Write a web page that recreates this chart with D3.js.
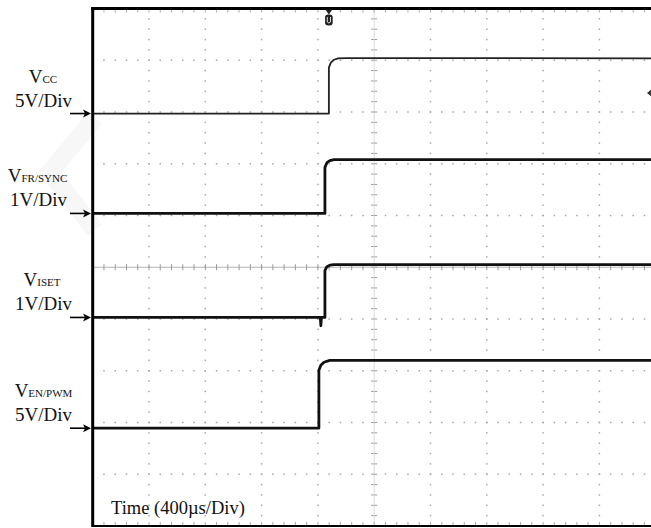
<!DOCTYPE html>
<html>
<head>
<meta charset="utf-8">
<script src="https://cdn.jsdelivr.net/npm/d3@7"></script>
<style>
  html, body { margin: 0; padding: 0; background: #fff; }
  svg { display: block; }
  text { font-family: "Liberation Serif", "Times New Roman", serif; fill: #111; }
</style>
</head>
<body>
<svg id="scope" width="651" height="528"></svg>
<script>
// Time base: 10 divisions at 400 µs/div
const timeDomain = [0, 4000];
const timeLabel = "Time (400\u00b5s/Div)";

// Channels
const channelNames = ["CC", "FR/SYNC", "ISET", "EN/PWM"];
const voltsPerDiv = [5, 1, 1, 5];
const scaleLabels = ["5V/Div", "1V/Div", "1V/Div", "5V/Div"];
// Ground reference of each channel, in divisions above screen centre
const groundDiv = [2.97, 1.04, -0.97, -3.11];

// Waveforms: [time µs, volts]
const vccTrace = [[0, 0], [1678, 0], [1678, 4.44], [1692, 4.92], [1714, 5.2], [1743, 5.33], [1800, 5.36], [4000, 5.34]];
const vfrTrace = [[0, 0], [1650, 0], [1650, 0.89], [1664, 0.98], [1685, 1.02], [1714, 1.04], [4000, 1.04]];
const visetTrace = [[0, 0], [1617, 0], [1621, -0.16], [1625, 0], [1650, 0], [1650, 0.91], [1664, 0.98], [1685, 1.01], [1714, 1.02], [4000, 1.02]];
const venTrace = [[0, 0], [1607, 0], [1607, 5.6], [1621, 6.08], [1643, 6.37], [1685, 6.56], [4000, 6.56]];
const traces = [vccTrace, vfrTrace, visetTrace, venTrace];

// Trigger position (µs)
const triggerTime = 1678;

const svg = d3.select("#scope");
const plotLeft = 92.7, plotTop = 8.5, divW = 56.3, divH = 51.75;
const plotRight = plotLeft + 10 * divW, plotBottom = plotTop + 10 * divH;

const x = d3.scaleLinear().domain(timeDomain).range([plotLeft, plotRight]);
const yDiv = d3.scaleLinear().domain([-5, 5]).range([plotBottom, plotTop]);

// faint background mark
svg.append("path")
  .attr("d", "M95,118 L50,172 L95,230")
  .attr("fill", "none").attr("stroke", "#f7f7f7").attr("stroke-width", 18);

const grid = svg.append("g");
// dotted division lines
const minorX = d3.range(0, 51).map(i => plotLeft + i * divW / 5);
const minorY = d3.range(0, 51).map(i => plotTop + i * divH / 5);
for (let d = 1; d < 10; d++) {
  if (d === 5) continue;
  const gx = plotLeft + d * divW;
  grid.selectAll(null).data(minorY).enter().append("rect")
    .attr("x", gx - 0.75).attr("y", v => v - 0.75).attr("width", 1.5).attr("height", 1.5)
    .attr("fill", "#a8a8a8");
  const gy = plotTop + d * divH;
  grid.selectAll(null).data(minorX).enter().append("rect")
    .attr("x", v => v - 0.75).attr("y", gy - 0.75).attr("width", 1.5).attr("height", 1.5)
    .attr("fill", "#a8a8a8");
}
// centre axes with minor ticks
const cx = plotLeft + 5 * divW, cy = plotTop + 5 * divH;
grid.append("line").attr("x1", plotLeft).attr("x2", plotRight).attr("y1", cy).attr("y2", cy)
  .attr("stroke", "#b5b5b5").attr("stroke-width", 1.2);
grid.selectAll(null).data(minorX).enter().append("line")
  .attr("x1", v => v).attr("x2", v => v).attr("y1", cy - 3).attr("y2", cy + 3)
  .attr("stroke", "#999").attr("stroke-width", 1);
grid.selectAll(null).data(minorY).enter().append("line")
  .attr("x1", cx - 3).attr("x2", cx + 3).attr("y1", v => v).attr("y2", v => v)
  .attr("stroke", "#999").attr("stroke-width", 1);
grid.append("line").attr("x1", cx).attr("x2", cx).attr("y1", plotTop).attr("y2", plotBottom)
  .attr("stroke", "#dadada").attr("stroke-width", 1);
// edge ticks
grid.selectAll(null).data(minorX).enter().append("line")
  .attr("x1", v => v).attr("x2", v => v).attr("y1", plotBottom - 4).attr("y2", plotBottom)
  .attr("stroke", "#aaa").attr("stroke-width", 1);
grid.selectAll(null).data(minorX).enter().append("line")
  .attr("x1", v => v).attr("x2", v => v).attr("y1", plotTop).attr("y2", plotTop + 4)
  .attr("stroke", "#aaa").attr("stroke-width", 1);

// traces
const widths = [1.8, 2.8, 2.8, 2.8];
traces.forEach((tr, i) => {
  const line = d3.line()
    .x(d => x(d[0]))
    .y(d => yDiv(groundDiv[i] + d[1] / voltsPerDiv[i]));
  svg.append("path").datum(tr)
    .attr("d", line)
    .attr("fill", "none")
    .attr("stroke", i === 0 ? "#222" : "#111")
    .attr("stroke-width", widths[i])
    .attr("stroke-linejoin", "round");
});

// frame
svg.append("line").attr("x1", plotLeft).attr("x2", plotLeft).attr("y1", plotTop - 1.5).attr("y2", plotBottom + 1)
  .attr("stroke", "#000").attr("stroke-width", 3);
svg.append("line").attr("x1", plotLeft - 1.5).attr("x2", 651).attr("y1", plotTop).attr("y2", plotTop)
  .attr("stroke", "#000").attr("stroke-width", 3);
svg.append("line").attr("x1", plotLeft).attr("x2", 651).attr("y1", plotBottom).attr("y2", plotBottom)
  .attr("stroke", "#000").attr("stroke-width", 2);

// trigger marker
const tx = x(triggerTime);
svg.append("path")
  .attr("d", `M${tx - 3.5},${plotTop + 1} L${tx + 3.5},${plotTop + 1} L${tx},${plotTop + 6} Z`)
  .attr("fill", "#222");
svg.append("rect").attr("x", tx - 3.8).attr("y", plotTop + 6).attr("width", 7.6).attr("height", 11).attr("rx", 3)
  .attr("fill", "#222");
svg.append("path")
  .attr("d", `M${tx - 1.6},${plotTop + 8.5} L${tx - 1.6},${plotTop + 13.5} Q${tx},${plotTop + 15.5} ${tx + 1.6},${plotTop + 13.5} L${tx + 1.6},${plotTop + 8.5}`)
  .attr("fill", "none").attr("stroke", "#ddd").attr("stroke-width", 1);

// right-edge level marker
svg.append("path").attr("d", "M647,93 L652,89 L652,97 Z").attr("fill", "#333");

// channel labels and ground arrows
const nameX = [43, 37.5, 42, 43.5];
const scaleX = [43.5, 38.5, 43.5, 43.5];
channelNames.forEach((nm, i) => {
  const gy = yDiv(groundDiv[i]);
  const t = svg.append("text")
    .attr("x", nameX[i]).attr("y", gy - 31)
    .attr("text-anchor", "middle").attr("font-size", 19);
  t.append("tspan").text("V");
  t.append("tspan").attr("font-size", 11).text(nm);
  svg.append("text")
    .attr("x", scaleX[i]).attr("y", gy - 7)
    .attr("text-anchor", "middle").attr("font-size", 19)
    .text(scaleLabels[i]);
  svg.append("line").attr("x1", 70).attr("x2", 86).attr("y1", gy).attr("y2", gy)
    .attr("stroke", "#000").attr("stroke-width", 1.6);
  svg.append("path").attr("d", `M91,${gy} L83,${gy - 4} L85,${gy} L83,${gy + 4} Z`)
    .attr("fill", "#000");
});

svg.append("text").attr("x", 111).attr("y", 514).attr("font-size", 18.5).text(timeLabel);
</script>
</body>
</html>
